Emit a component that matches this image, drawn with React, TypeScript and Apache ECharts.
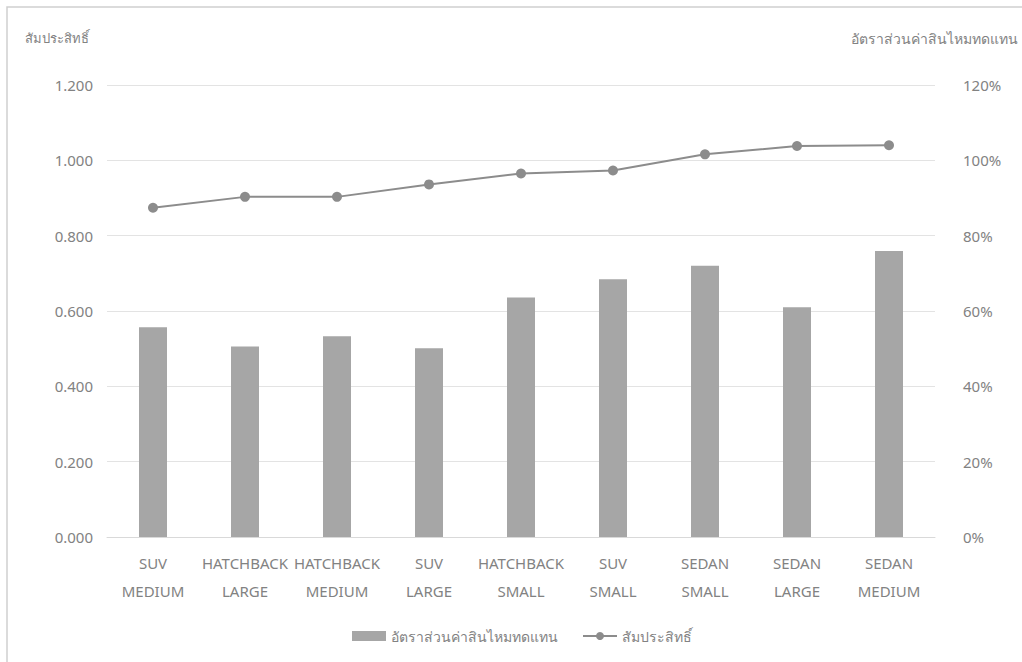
import React, { useEffect, useRef } from "react";
import * as echarts from "echarts";

const categories = [
  "SUV\nMEDIUM",
  "HATCHBACK\nLARGE",
  "HATCHBACK\nMEDIUM",
  "SUV\nLARGE",
  "HATCHBACK\nSMALL",
  "SUV\nSMALL",
  "SEDAN\nSMALL",
  "SEDAN\nLARGE",
  "SEDAN\nMEDIUM",
];

// Loss ratio (right axis, fraction of 100%)
const lossRatio = [0.557, 0.506, 0.533, 0.501, 0.636, 0.684, 0.72, 0.61, 0.759];

// Coefficient (left axis)
const coefficient = [0.874, 0.903, 0.903, 0.936, 0.965, 0.973, 1.016, 1.038, 1.04];

const barName = "อัตราส่วนค่าสินไหมทดแทน";
const lineName = "สัมประสิทธิ์";

const FONT = "'Noto Sans', 'DejaVu Sans', sans-serif";
const TEXT = "#828282";

export default function App() {
  const ref = useRef<HTMLDivElement>(null);

  useEffect(() => {
    if (!ref.current) return;
    const chart = echarts.init(ref.current, undefined, { renderer: "svg" });
    chart.setOption({
      animation: false,
      backgroundColor: "#ffffff",
      textStyle: { fontFamily: FONT },
      grid: { left: 107, right: 87, top: 85, bottom: 125 },
      graphic: [
        {
          type: "rect",
          shape: { x: 7, y: 7, width: 1040, height: 700 },
          style: { fill: "none", stroke: "#cfcfcf", lineWidth: 1.5 },
          silent: true,
        },
        {
          type: "text",
          left: 25,
          top: 31,
          style: { text: lineName, fontSize: 13, fill: TEXT, fontFamily: FONT },
        },
        {
          type: "text",
          right: 4,
          top: 31,
          style: { text: barName, fontSize: 14, fill: TEXT, fontFamily: FONT },
        },
      ],
      legend: {
        left: 347,
        top: 624,
        itemWidth: 34,
        itemHeight: 10,
        itemGap: 24,
        textStyle: { color: TEXT, fontSize: 14, fontFamily: FONT },
        data: [
          { name: barName, icon: "rect" },
          { name: lineName },
        ],
      },
      xAxis: {
        type: "category",
        data: categories,
        axisLine: { lineStyle: { color: "#d9d9d9" } },
        axisTick: { show: false },
        axisLabel: {
          color: TEXT,
          fontSize: 15,
          lineHeight: 28,
          margin: 12,
          interval: 0,
          fontFamily: FONT,
        },
      },
      yAxis: [
        {
          type: "value",
          min: 0,
          max: 1.2,
          interval: 0.2,
          axisLine: { show: false },
          axisTick: { show: false },
          splitLine: { lineStyle: { color: "#e3e3e3" } },
          axisLabel: {
            color: TEXT,
            fontSize: 15,
            margin: 14,
            fontFamily: FONT,
            formatter: (v: number) => v.toFixed(3),
          },
        },
        {
          type: "value",
          min: 0,
          max: 1.2,
          interval: 0.2,
          axisLine: { show: false },
          axisTick: { show: false },
          splitLine: { show: false },
          axisLabel: {
            color: TEXT,
            fontSize: 15,
            margin: 28,
            align: "left",
            fontFamily: FONT,
            formatter: (v: number) => `${Math.round(v * 100)}%`,
          },
        },
      ],
      series: [
        {
          name: barName,
          type: "bar",
          yAxisIndex: 1,
          data: lossRatio,
          barWidth: 28,
          itemStyle: { color: "#a6a6a6" },
        },
        {
          name: lineName,
          type: "line",
          yAxisIndex: 0,
          data: coefficient,
          symbol: "circle",
          symbolSize: 10,
          itemStyle: { color: "#8c8c8c" },
          lineStyle: { color: "#8c8c8c", width: 2 },
        },
      ],
    });
    return () => chart.dispose();
  }, []);

  return (
    <div
      ref={ref}
      style={{ position: "fixed", left: 0, top: 0, width: 1022, height: 662, background: "#fff" }}
    />
  );
}
